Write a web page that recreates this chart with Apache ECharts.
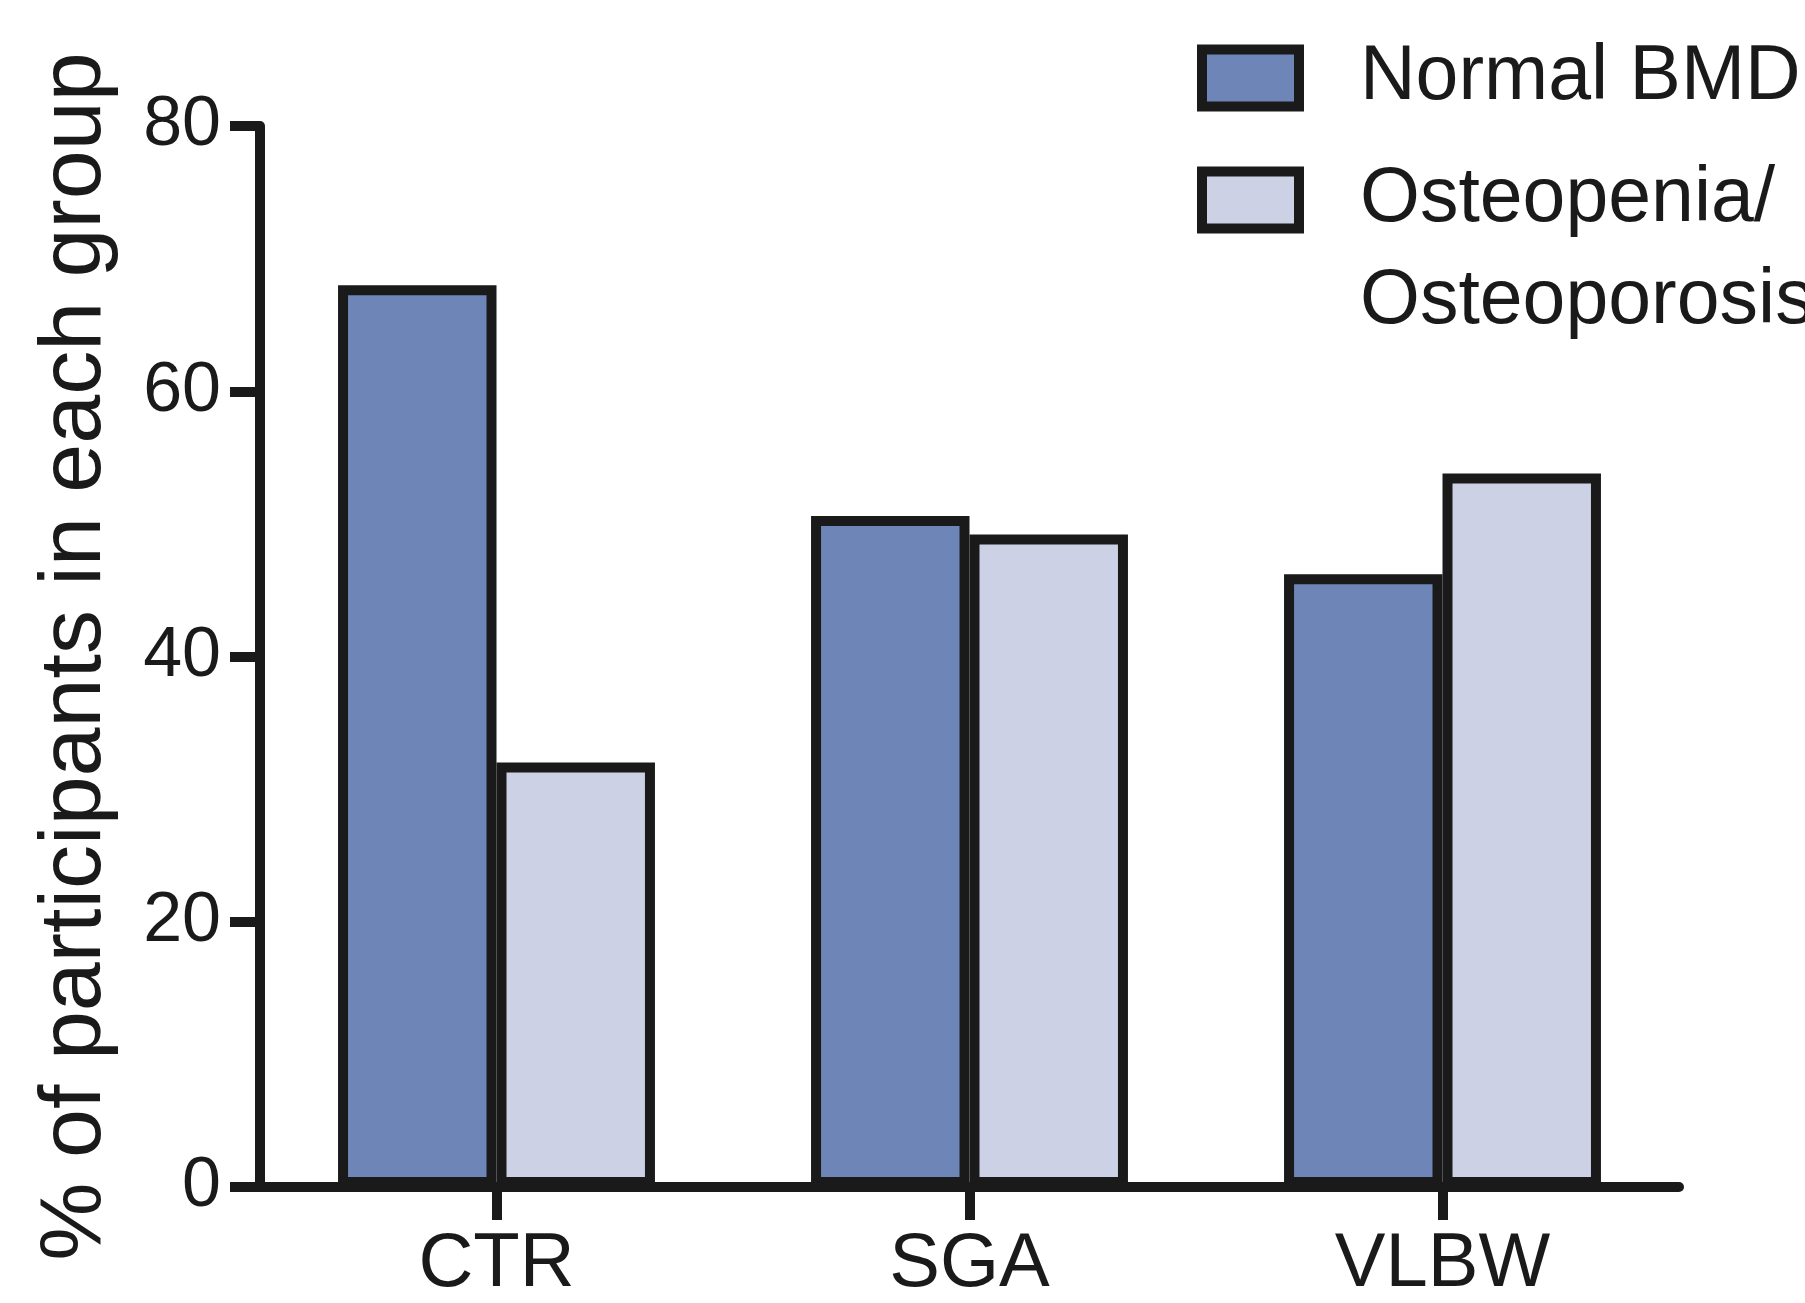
<!DOCTYPE html>
<html>
<head>
<meta charset="utf-8">
<script src="https://cdn.jsdelivr.net/npm/echarts@6/dist/echarts.min.js"></script>
<style>
html,body{margin:0;padding:0;background:#fff;}
#chart{width:1805px;height:1303px;}
</style>
</head>
<body>
<div id="chart"></div>
<script>
const categories = ['CTR', 'SGA', 'VLBW'];
const seriesNames = ['Normal BMD', 'Osteopenia/\nOsteoporosis'];
const normalBMD = [68, 50.6, 46.2];
const osteo = [32, 49.2, 53.8];
const yMin = 0, yMax = 80, yInterval = 20;
const yAxisTitle = '% of participants in each group';

const INK = '#1a1a1a';
const FONT = "'Liberation Sans', Arial, sans-serif";

const chart = echarts.init(document.getElementById('chart'), null, {renderer: 'canvas'});
function legendCfg(name, top, fmt) {
  return {
    orient: 'vertical', padding: 0, icon: 'rect',
    left: 1197, top: top,
    itemWidth: 97, itemHeight: 57,
    itemStyle: {borderWidth: 10, borderColor: INK},
    textStyle: {fontSize: 77, fontFamily: FONT, color: INK, lineHeight: 102, padding: [0, 0, 0, 56]},
    formatter: fmt,
    data: [name]
  };
}
chart.setOption({
  animation: false,
  backgroundColor: '#ffffff',
  grid: {left: 260, right: 126, top: 126, bottom: 116, containLabel: false},
  legend: [
    legendCfg(seriesNames[0], 27, function (n) { return n; }),
    legendCfg(seriesNames[1], 47, function (n) { return '\n' + n; })
  ],
  xAxis: {
    type: 'category', data: categories, boundaryGap: true,
    axisLine: {show: true, lineStyle: {color: INK, width: 10}},
    axisTick: {show: true, alignWithLabel: true, length: 33, lineStyle: {color: INK, width: 10}},
    axisLabel: {fontSize: 76, fontFamily: FONT, color: INK, margin: 40},
    splitLine: {show: false}
  },
  yAxis: {
    type: 'value', min: yMin, max: yMax, interval: yInterval,
    name: yAxisTitle, nameLocation: 'middle', nameGap: 140,
    nameTextStyle: {fontSize: 88, fontFamily: FONT, color: INK},
    axisLine: {show: true, lineStyle: {color: INK, width: 10}},
    axisTick: {show: true, length: 30, lineStyle: {color: INK, width: 10}},
    axisLabel: {fontSize: 70, fontFamily: FONT, color: INK, margin: 39},
    splitLine: {show: false}
  },
  series: [
    {name: seriesNames[0], type: 'bar', data: normalBMD, barGap: '0%', barCategoryGap: '33%',
     itemStyle: {color: '#6E86B7', borderColor: INK, borderWidth: 10}},
    {name: seriesNames[1], type: 'bar', data: osteo, barGap: '0%', barCategoryGap: '33%',
     itemStyle: {color: '#CDD1E5', borderColor: INK, borderWidth: 10}}
  ]
});
</script>
</body>
</html>
